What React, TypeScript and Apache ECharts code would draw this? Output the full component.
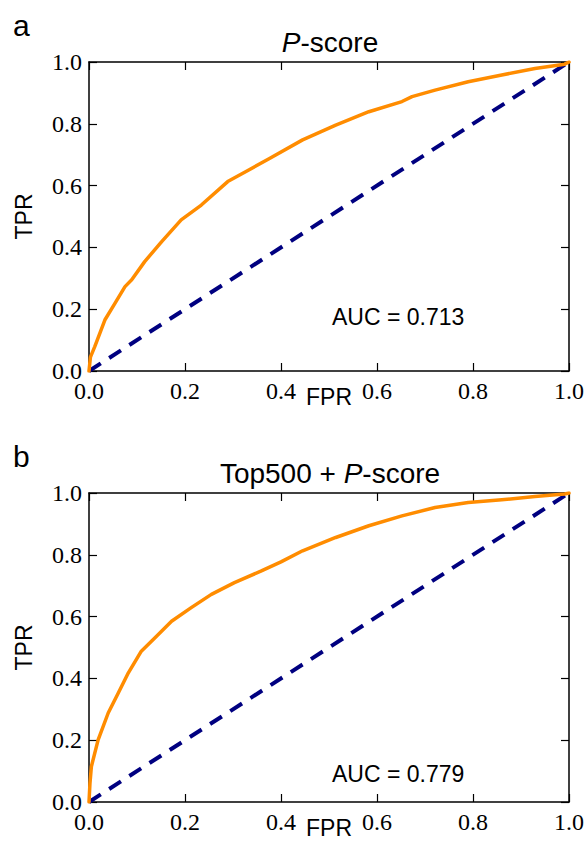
import React, { useEffect, useRef } from "react";
import * as echarts from "echarts";

const fprA = [0, 0.003, 0.012, 0.033, 0.054, 0.075, 0.089, 0.116, 0.151, 0.192, 0.234, 0.289, 0.33, 0.376, 0.445, 0.514, 0.583, 0.652, 0.673, 0.721, 0.79, 0.86, 0.929, 0.991, 1];
const tprA = [0, 0.045, 0.079, 0.165, 0.219, 0.273, 0.295, 0.354, 0.418, 0.489, 0.537, 0.613, 0.648, 0.688, 0.748, 0.796, 0.839, 0.872, 0.888, 0.909, 0.936, 0.958, 0.979, 0.993, 1];

const fprB = [0, 0.002, 0.005, 0.019, 0.04, 0.061, 0.082, 0.109, 0.137, 0.172, 0.213, 0.255, 0.303, 0.358, 0.4, 0.445, 0.514, 0.583, 0.652, 0.721, 0.79, 0.86, 0.929, 0.991, 1];
const tprB = [0, 0.06, 0.115, 0.201, 0.288, 0.353, 0.418, 0.488, 0.531, 0.585, 0.629, 0.672, 0.71, 0.747, 0.777, 0.813, 0.856, 0.894, 0.926, 0.953, 0.969, 0.978, 0.989, 0.997, 1];

const chanceX = [0, 1];
const chanceY = [0, 1];

const panelLetters = ["a", "b"];
const aucTexts = ["AUC = 0.713", "AUC = 0.779"];
const xName = "FPR";
const yName = "TPR";

const SERIF = "'Liberation Serif', 'DejaVu Serif', serif";
const SANS = "'Liberation Sans', Arial, Helvetica, sans-serif";

export default function App() {
  const ref = useRef<HTMLDivElement>(null);
  useEffect(() => {
    if (!ref.current) return;
    const chart = echarts.init(ref.current, undefined, { renderer: "svg" });
    const grids = [
      { left: 89, top: 62, width: 482, height: 309 },
      { left: 89, top: 493, width: 482, height: 309 },
    ];
    const axisLine = { show: true, onZero: false, lineStyle: { color: "#000", width: 1.5 } };
    const tick = { show: true, inside: true, length: 8, lineStyle: { color: "#000", width: 1.2 } };
    const xAxes: any[] = [];
    const yAxes: any[] = [];
    grids.forEach((_, g) => {
      xAxes.push({
        type: "value", gridIndex: g, min: 0, max: 1, interval: 0.2, position: "bottom",
        axisLine, axisTick: tick, splitLine: { show: false },
        axisLabel: { margin: 8, color: "#000", fontFamily: SERIF, fontSize: 24, formatter: (v: number) => v.toFixed(1) },
        name: xName, nameLocation: "middle", nameGap: 14, nameMoveOverlap: false,
        nameTextStyle: { color: "#000", fontFamily: SANS, fontSize: 23 },
      });
      xAxes.push({
        type: "value", gridIndex: g, min: 0, max: 1, interval: 0.2, position: "top",
        axisLine, axisTick: tick, splitLine: { show: false }, axisLabel: { show: false },
      });
      yAxes.push({
        type: "value", gridIndex: g, min: 0, max: 1, interval: 0.2, position: "left",
        axisLine, axisTick: tick, splitLine: { show: false },
        axisLabel: { margin: 7, color: "#000", fontFamily: SERIF, fontSize: 24, formatter: (v: number) => v.toFixed(1) },
        name: yName, nameLocation: "middle", nameGap: 54, nameRotate: 90, nameMoveOverlap: false,
        nameTextStyle: { color: "#000", fontFamily: SANS, fontSize: 23 },
      });
      yAxes.push({
        type: "value", gridIndex: g, min: 0, max: 1, interval: 0.2, position: "right",
        axisLine, axisTick: tick, splitLine: { show: false }, axisLabel: { show: false },
      });
    });
    const curves = [
      fprA.map((x, i) => [x, tprA[i]]),
      fprB.map((x, i) => [x, tprB[i]]),
    ];
    const series: any[] = [];
    grids.forEach((_, g) => {
      series.push({
        type: "line", xAxisIndex: g * 2, yAxisIndex: g * 2,
        data: chanceX.map((x, i) => [x, chanceY[i]]),
        showSymbol: false, symbol: "none", z: 2,
        lineStyle: { color: "#000080", width: 4, type: [14, 10] },
      });
      series.push({
        type: "line", xAxisIndex: g * 2, yAxisIndex: g * 2,
        data: curves[g], showSymbol: false, symbol: "none", z: 3,
        smooth: false,
        lineStyle: { color: "#ff8c00", width: 3.5, join: "round", cap: "round" },
      });
    });
    const titleRich = {
      i: { fontStyle: "italic", fontFamily: SANS, fontSize: 28, color: "#000" },
      n: { fontFamily: SANS, fontSize: 28, color: "#000" },
    };
    const graphic: any[] = [
      { type: "text", left: 13, top: 10, style: { text: panelLetters[0], font: `30px ${SANS}`, fill: "#000" } },
      { type: "text", left: 13, top: 441, style: { text: panelLetters[1], font: `30px ${SANS}`, fill: "#000" } },
      { type: "text", x: 330, y: 42, style: { text: "{i|P}{n|-score}", rich: titleRich, align: "center", verticalAlign: "middle" } },
      { type: "text", x: 330, y: 473, style: { text: "{n|Top500 + }{i|P}{n|-score}", rich: titleRich, align: "center", verticalAlign: "middle" } },
      { type: "text", x: 332, y: 317, style: { text: aucTexts[0], font: `23px ${SANS}`, fill: "#000", verticalAlign: "middle" } },
      { type: "text", x: 332, y: 774, style: { text: aucTexts[1], font: `23px ${SANS}`, fill: "#000", verticalAlign: "middle" } },
    ];
    chart.setOption({
      animation: false,
      backgroundColor: "#fff",
      grid: grids.map((g) => ({ ...g, containLabel: false })),
      xAxis: xAxes,
      yAxis: yAxes,
      series,
      graphic,
    });
    return () => chart.dispose();
  }, []);
  return (
    <div
      ref={ref}
      style={{ position: "fixed", left: 0, top: 0, width: 587, height: 864, background: "#fff" }}
    />
  );
}
